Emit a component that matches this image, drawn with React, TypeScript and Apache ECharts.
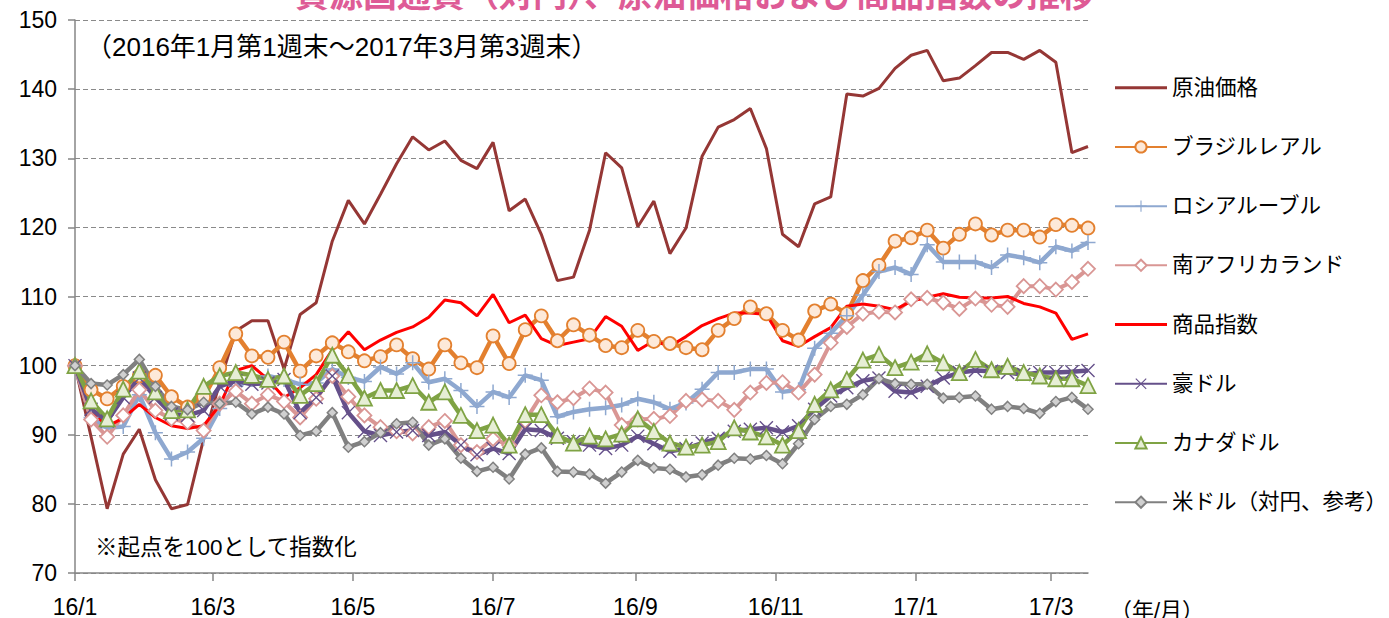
import React, { useEffect, useRef } from "react";
import * as echarts from "echarts";

// ---- data ----
const startDate = "2016-01-01"; // first weekly observation (week 1 end)
const weekCount = 64; // 2016/1 week1 .. 2017/3 week3
const tickDates = ["2016-01-01", "2016-03-01", "2016-05-01", "2016-07-01", "2016-09-01", "2016-11-01", "2017-01-01", "2017-03-01"];
const tickLabels = ["16/1", "16/3", "16/5", "16/7", "16/9", "16/11", "17/1", "17/3"];
const lastDate = "2017-03-17";

const seriesNames = ["原油価格", "ブラジルレアル", "ロシアルーブル", "南アフリカランド", "商品指数", "豪ドル", "カナダドル", "米ドル（対円、参考）"];

const crudeOil = [100, 89.7, 79.3, 87.2, 90.8, 83.5, 79.3, 79.9, 89.4, 97.5, 105, 106.5, 106.5, 99.5, 107.4, 109.1, 118, 123.9, 120.5, 124.8, 129.2, 133.1, 131.2, 132.5, 129.7, 128.5, 132.3, 122.4, 124.1, 119.0, 112.3, 112.8, 119.6, 130.8, 128.6, 120.1, 123.8, 116.2, 119.9, 130.3, 134.5, 135.6, 137.2, 131.4, 119.0, 117.2, 123.4, 124.4, 139.3, 139.0, 140.1, 143.0, 144.9, 145.6, 141.2, 141.6, 143.4, 145.3, 145.3, 144.3, 145.6, 143.9, 130.8, 131.7];
const brazilReal = [100, 96.5, 95.2, 97, 98.5, 98.6, 95.5, 94, 95.4, 99.7, 104.6, 101.4, 101.2, 103.4, 99.2, 101.4, 103.3, 102, 100.7, 101.3, 103, 101, 99.5, 103, 100.4, 99.7, 104.3, 100.3, 105.2, 107.2, 103.6, 105.9, 104.4, 102.9, 102.6, 105.1, 103.5, 103.2, 102.6, 102.3, 105.1, 106.8, 108.5, 107.5, 105.1, 103.7, 107.9, 108.9, 107.5, 112.3, 114.5, 118, 118.5, 119.6, 117, 119, 120.5, 118.9, 119.6, 119.6, 118.6, 120.4, 120.3, 119.9];
const russianRuble = [100, 92.5, 91, 91.2, 95.8, 90.3, 86.5, 87.5, 89.5, 93.8, 97, 98, 98.5, 98, 97.3, 97.5, 99.5, 98.3, 97.7, 99.8, 98.8, 100.4, 97.6, 98.1, 96.4, 94.1, 96.2, 95.4, 98.6, 97.9, 92.6, 93.3, 93.7, 93.9, 94.3, 95.2, 94.7, 93.7, 94.6, 96.6, 99, 99, 99.5, 99.5, 96.2, 96.5, 102.5, 104.7, 107.2, 110.2, 113.6, 114.2, 113.2, 117.5, 115, 115, 115, 114.2, 116, 115.6, 114.9, 117.2, 116.6, 117.8];
const southAfricanRand = [100, 92.2, 89.7, 92.8, 96.5, 93.5, 92.3, 91.8, 90.6, 94.5, 96.3, 94.5, 95.8, 94.8, 92.5, 95.2, 98.5, 95.5, 92.8, 91.1, 90.5, 90.2, 91.1, 92, 88.5, 87.5, 89.4, 88.5, 92, 95.7, 94.7, 95.3, 96.7, 96.1, 91.4, 92.2, 92.3, 92.7, 94.9, 95.1, 94.9, 93.6, 96.1, 97.5, 97.6, 96.1, 98.7, 103.3, 105.6, 107.5, 107.8, 107.7, 109.6, 109.8, 109.1, 108.2, 109.7, 108.8, 108.5, 111.5, 111.5, 111, 112.1, 114];
const commodityIndex = [100, 93.5, 91.2, 92.4, 94.4, 92.5, 91.3, 90.9, 91.3, 94.3, 99.3, 100, 98, 95.4, 96.8, 98.7, 102.3, 104.9, 102.3, 103.7, 104.8, 105.6, 107, 109.5, 109.1, 107.2, 110.3, 106.2, 107.3, 103.9, 102.9, 103.4, 103.9, 107.1, 105.7, 102.2, 103.6, 102.8, 104.2, 105.8, 106.8, 107.6, 107.6, 107.4, 103.6, 102.8, 104.2, 105.5, 108.6, 108.9, 108.6, 108.1, 109.3, 109.9, 110.4, 109.9, 109.8, 109.8, 110, 109, 108.5, 107.6, 103.8, 104.6];
const australianDollar = [100, 93.7, 92, 95.4, 98.2, 95.4, 93, 92.8, 93.5, 97, 97.8, 97.3, 97.5, 98, 93.2, 95.4, 98.5, 93.2, 90.5, 89.9, 90.4, 90.6, 89.9, 90.4, 88.5, 87.1, 88, 87.3, 90.8, 90.6, 89.5, 89, 88.5, 88, 88.5, 89.8, 88.7, 87.6, 88, 88.8, 89.5, 90.5, 90.8, 91, 90.4, 91.3, 93.7, 95.6, 96.8, 97.8, 98.2, 96.3, 96.1, 97, 98.2, 99, 99.3, 99.2, 99, 98.7, 99, 99, 99.1, 99.3];
const canadianDollar = [100, 94.9, 92.3, 96.6, 99.2, 96.2, 93.5, 93.6, 97, 98.5, 99, 98.6, 98, 98.5, 95.7, 97.4, 101.5, 98.6, 95.3, 96.4, 96.4, 97.1, 94.7, 96.2, 92.8, 90.6, 91.4, 88.5, 92.9, 92.9, 89.9, 88.8, 89.8, 89.4, 90.1, 92.3, 90.5, 88.8, 88.2, 88.5, 89, 91, 90.4, 89.7, 88.5, 90.6, 94.4, 96.5, 98, 100.8, 101.6, 99.7, 100.5, 101.7, 100.4, 99, 100.9, 99.4, 99.9, 99, 98.5, 98.1, 98.1, 97.1];
const usDollar = [100, 97.4, 97.2, 98.7, 100.9, 97, 94.1, 93.6, 94.7, 94.5, 94.7, 93, 94, 93, 89.9, 90.5, 93.2, 88.2, 89, 90.3, 91.6, 91.8, 88.5, 89.4, 86.6, 84.7, 85.3, 83.6, 87.2, 88.1, 84.7, 84.6, 84.3, 83, 84.6, 86.3, 85.2, 85, 83.9, 84.2, 85.6, 86.6, 86.5, 87, 85.8, 88.7, 92.2, 94.1, 94.4, 95.8, 98.1, 97.4, 97.3, 97.3, 95.3, 95.4, 95.6, 93.7, 94.1, 93.8, 93.1, 94.8, 95.4, 93.7];

const FONT = "'Liberation Sans', 'Noto Sans CJK JP', sans-serif";
const DAY = 86400000;
const dayOf = (d: string) => (Date.parse(d + "T00:00:00Z") - Date.parse(startDate + "T00:00:00Z")) / DAY;
const weekDays = Array.from({ length: weekCount }, (_, i) => i * 7);
const tickDays = tickDates.map(dayOf);

const PLUS = "path://M9,0H11V9H20V11H11V20H9V11H0V9H9Z";
const CROSS = "path://M0,1.4L1.4,0L10,8.6L18.6,0L20,1.4L11.4,10L20,18.6L18.6,20L10,11.4L1.4,20L0,18.6L8.6,10Z";
const LINE_ICON = "path://M0,0H52V3H0Z";

export default function App() {
  const ref = useRef<HTMLDivElement>(null);
  useEffect(() => {
    if (!ref.current) return;
    const chart = echarts.init(ref.current, undefined, { renderer: "svg" });
    const mk = (vals: number[]) => vals.map((v, i) => [weekDays[i], v]);
    const lineSeries = (
      name: string,
      vals: number[],
      color: string,
      width: number,
      symbol: string,
      size: number,
      fill: string,
      border: number
    ) => ({
      name,
      type: "line",
      data: mk(vals),
      showSymbol: symbol !== "none",
      symbol,
      symbolSize: size,
      lineStyle: { color, width },
      itemStyle: symbol === "none" ? { color, borderWidth: 0 } : { color: fill, borderColor: color, borderWidth: border },
      emphasis: { disabled: true },
    });
    const legendData = seriesNames.map((n, i) =>
      i === 0 || i === 4 ? { name: n, icon: LINE_ICON } : { name: n }
    );
    const option: any = {
      animation: false,
      textStyle: { fontFamily: FONT },
      grid: { left: 75, top: 20, right: 301, bottom: 39, containLabel: false },
      xAxis: {
        type: "value",
        min: 0,
        max: dayOf(lastDate),
        axisLine: { show: true, lineStyle: { color: "#868686", width: 1.5 } },
        axisTick: { show: true, customValues: tickDays, length: 8, inside: false, lineStyle: { color: "#868686", width: 1.5 } },
        axisLabel: {
          customValues: tickDays,
          formatter: (v: number) => tickLabels[tickDays.indexOf(v)] ?? "",
          fontSize: 23,
          color: "#000",
          margin: 22,
          fontFamily: FONT,
        },
        splitLine: { show: false },
      },
      yAxis: {
        type: "value",
        min: 70,
        max: 150,
        interval: 10,
        axisLine: { show: true, lineStyle: { color: "#868686", width: 1.5 } },
        axisTick: { show: true, length: 7, lineStyle: { color: "#868686", width: 1.5 } },
        axisLabel: { fontSize: 23, color: "#000", margin: 18, fontFamily: FONT },
        splitLine: { show: true, lineStyle: { color: "#8a8a8a", type: [5, 3], width: 1.2 } },
      },
      legend: {
        orient: "vertical",
        left: 1109,
        top: 72,
        itemWidth: 52,
        itemHeight: 14,
        itemGap: 37.7,
        textStyle: { fontSize: 21.5, color: "#000", fontFamily: FONT },
        data: legendData,
      },
      graphic: [
        {
          type: "text",
          left: "center",
          top: -22,
          style: { text: "資源国通貨（対円）、原油価格および商品指数の推移", fontSize: 34, fontWeight: "bold", fill: "#DE5B96", fontFamily: FONT },
        },
        {
          type: "text",
          left: 86,
          top: 34,
          style: { text: "（2016年1月第1週末～2017年3月第3週末）", fontSize: 26, fill: "#000", fontFamily: FONT },
        },
        {
          type: "text",
          left: 95,
          top: 536,
          style: { text: "※起点を100として指数化", fontSize: 22.5, fill: "#000", fontFamily: FONT },
        },
        {
          type: "text",
          left: 1110,
          top: 599,
          style: { text: "（年/月）", fontSize: 22, fill: "#000", fontFamily: FONT },
        },
      ],
      series: [
        lineSeries(seriesNames[0], crudeOil, "#953735", 3, "none", 0, "#953735", 0),
        lineSeries(seriesNames[1], brazilReal, "#E3802F", 4.5, "circle", 13, "#FDE9D9", 1.8),
        lineSeries(seriesNames[2], russianRuble, "#8EA8D0", 4.5, PLUS, 15, "#8EA8D0", 0),
        lineSeries(seriesNames[3], southAfricanRand, "#D99694", 4, "diamond", 14, "#FFFFFF", 1.8),
        lineSeries(seriesNames[4], commodityIndex, "#FF0000", 3, "none", 0, "#FF0000", 0),
        lineSeries(seriesNames[5], australianDollar, "#65508A", 4.5, CROSS, 14, "#65508A", 0),
        lineSeries(seriesNames[6], canadianDollar, "#7FA344", 4.5, "triangle", 15, "#E6EED5", 1.8),
        lineSeries(seriesNames[7], usDollar, "#808080", 4.5, "diamond", 10, "#D0D0D0", 1.5),
      ],
    };
    chart.setOption(option);
    return () => chart.dispose();
  }, []);
  return <div ref={ref} style={{ position: "absolute", left: 0, top: 0, width: 1389, height: 618, background: "#fff" }} />;
}
